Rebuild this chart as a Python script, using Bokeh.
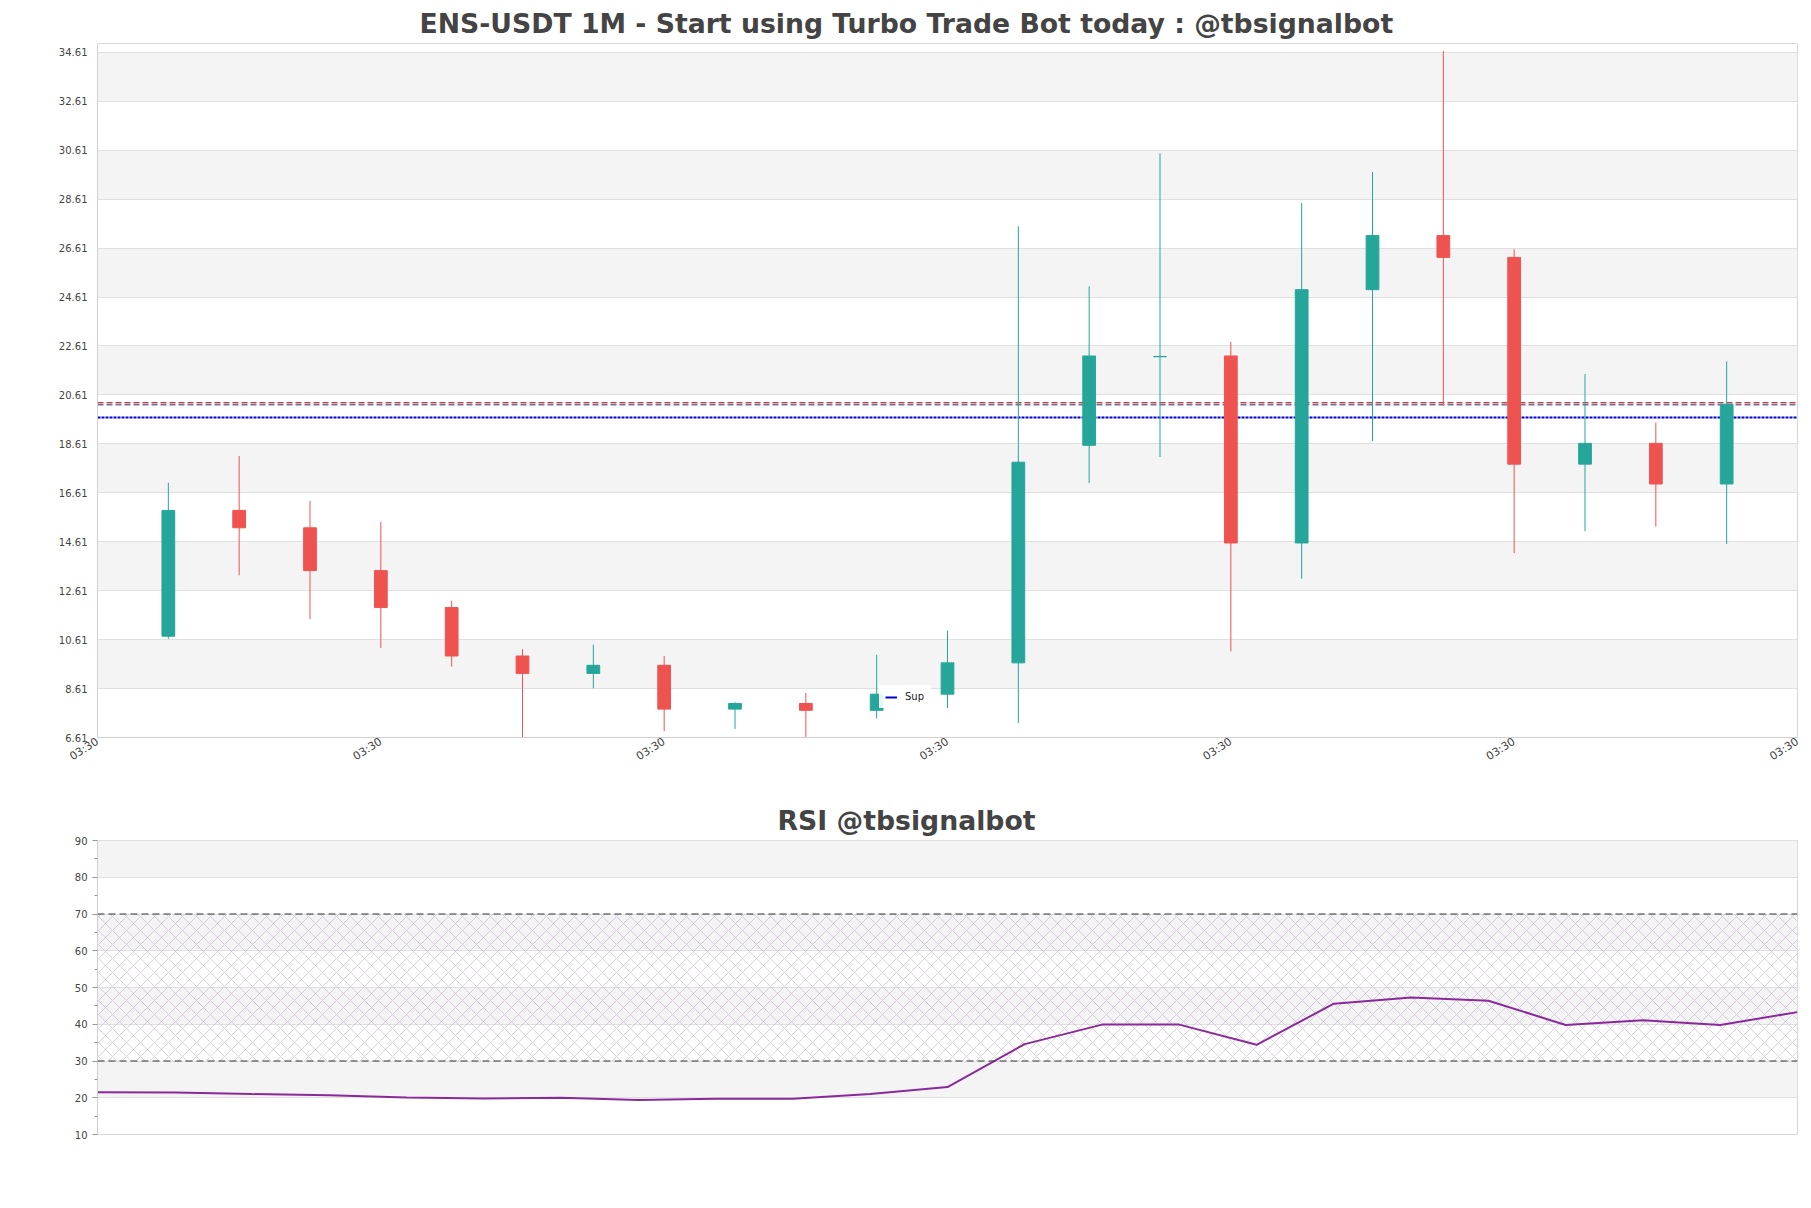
from bokeh.plotting import figure
from bokeh.layouts import column
from bokeh.models import (ColumnDataSource, FixedTicker, Span, Title, Range1d,
                          BoxAnnotation)
from bokeh.embed import file_html
from bokeh.resources import INLINE

# ---------------- data ----------------
candle_index = list(range(23))
opens  = [10.75, 15.89, 15.18, 13.43, 11.92, 9.94, 9.23, 9.56, 7.77, 8.00, 7.72, 8.38,
          9.66, 18.55, 22.17, 22.20, 14.56, 24.91, 27.12, 26.23, 17.78, 18.63, 16.97]
highs  = [17.02, 18.11, 16.27, 15.42, 12.20, 10.22, 10.41, 9.94, 8.05, 8.43, 9.99, 10.98,
          27.50, 25.05, 30.48, 22.78, 28.45, 29.72, 34.66, 26.56, 21.46, 19.48, 21.98]
lows   = [10.64, 13.24, 11.45, 10.27, 9.51, 6.63, 8.62, 6.87, 6.96, 6.61, 7.39, 7.81,
          7.20, 17.01, 18.07, 10.13, 13.10, 18.72, 20.18, 14.14, 15.04, 15.23, 14.52]
closes = [15.89, 15.18, 13.43, 11.92, 9.94, 9.23, 9.56, 7.77, 8.00, 7.72, 8.38, 9.66,
          17.86, 22.20, 22.18, 14.56, 24.91, 27.12, 26.23, 17.78, 18.63, 16.97, 20.23]

rsi_values = [21.5, 21.4, 21.0, 20.7, 20.1, 19.8, 20.0, 19.4, 19.7, 19.7, 21.0, 22.9,
              34.6, 39.9, 39.9, 34.4, 45.6, 47.3, 46.4, 39.8, 41.1, 39.8, 43.3]

sup_level = 19.68
res_level = 20.31
last_level = 20.23

price_ticks = [6.61, 8.61, 10.61, 12.61, 14.61, 16.61, 18.61, 20.61, 22.61, 24.61,
               26.61, 28.61, 30.61, 32.61, 34.61]
price_tick_labels = ["6.61", "8.61", "10.61", "12.61", "14.61", "16.61", "18.61", "20.61",
                     "22.61", "24.61", "26.61", "28.61", "30.61", "32.61", "34.61"]
x_ticks = [-1, 3, 7, 11, 15, 19, 23]
x_tick_labels = ["03:30", "03:30", "03:30", "03:30", "03:30", "03:30", "03:30"]
rsi_ticks = [10, 20, 30, 40, 50, 60, 70, 80, 90]
rsi_minor_ticks = [15, 25, 35, 45, 55, 65, 75, 85]
rsi_low, rsi_high = 30, 70

UP = "#26a69a"
DOWN = "#ef5350"
FONT = "DejaVu Sans"
TXT = "#444444"
GRID = "#e0e0e0"
BAND = "#f4f4f4"

# ---------------- main chart ----------------
colors = [UP if c >= o else DOWN for o, c in zip(opens, closes)]
src = ColumnDataSource(dict(
    x=candle_index, open=opens, high=highs, low=lows, close=closes,
    top=[max(o, c) for o, c in zip(opens, closes)],
    bottom=[min(o, c) for o, c in zip(opens, closes)],
    color=colors))

p = figure(width=1811, height=790, output_backend="svg", toolbar_location=None,
           x_range=Range1d(-1, 23), y_range=Range1d(6.61, 34.97),
           min_border_left=97, min_border_right=14, min_border_top=43,
           min_border_bottom=53, title=None)
p.add_layout(Title(text="ENS-USDT 1M - Start using Turbo Trade Bot today : @tbsignalbot",
                   align="left", offset=322, text_font=FONT, text_font_size="26.7px",
                   text_font_style="bold", text_color=TXT), "above")
p.outline_line_color = "#d8d8d8"
p.xgrid.visible = False
p.ygrid.grid_line_color = GRID
p.ygrid.band_fill_color = BAND
p.ygrid.band_fill_alpha = 1.0

p.yaxis.ticker = FixedTicker(ticks=price_ticks)
p.yaxis.major_label_overrides = {t: l for t, l in zip(price_ticks, price_tick_labels)}
p.xaxis.ticker = FixedTicker(ticks=x_ticks)
p.xaxis.major_label_overrides = {t: l for t, l in zip(x_ticks, x_tick_labels)}
p.xaxis.major_label_orientation = 0.57
for ax in (p.xaxis, p.yaxis):
    ax.axis_line_color = "#d0d0d0"
    ax.major_tick_line_color = None
    ax.minor_tick_line_color = None
    ax.major_tick_out = 0
    ax.major_tick_in = 0
    ax.major_label_text_font = FONT
    ax.major_label_text_font_size = "10px"
    ax.major_label_text_color = TXT
p.xaxis.major_label_text_font_size = "11px"
p.yaxis.major_label_standoff = 10
p.xaxis.major_label_standoff = 3

# horizontal levels (behind candles)
p.hspan(y=[last_level], line_color="#7b6f9c", line_width=2, line_dash="6 3")
p.hspan(y=[res_level], line_color="#e03535", line_width=1.2, line_dash="6 3")
p.hspan(y=[sup_level], line_color="#0000cc", line_width=2, line_dash="3 1")
p.line(x=[candle_index[0], candle_index[0]], y=[sup_level, sup_level],
       line_color="#0000cc", line_width=2, legend_label="Sup")

p.segment(x0="x", y0="low", x1="x", y1="high", line_color="color", line_width=1, source=src)
p.vbar(x="x", width=0.18, top="top", bottom="bottom", fill_color="color",
       line_color="color", line_width=1, source=src)

lg = p.legend[0]
lg.location = (782, 29)
lg.label_text_font = FONT
lg.label_text_font_size = "10px"
lg.label_text_color = "#222222"
lg.glyph_width = 12
lg.glyph_height = 10
lg.label_height = 10
lg.label_standoff = 8
lg.padding = 6
lg.margin = 0
lg.border_line_alpha = 0
lg.background_fill_alpha = 0.9

# ---------------- RSI chart ----------------
r = figure(width=1811, height=418, output_backend="svg", toolbar_location=None,
           x_range=Range1d(0, 22), y_range=Range1d(10, 90),
           min_border_left=97, min_border_right=14, min_border_top=50,
           min_border_bottom=74, title=None)
r.add_layout(Title(text="RSI @tbsignalbot", align="left", offset=680, text_font=FONT,
                   text_font_size="26.7px", text_font_style="bold", text_color=TXT), "above")
r.outline_line_color = "#d8d8d8"
r.xaxis.visible = False
r.xgrid.visible = False
r.ygrid.grid_line_color = GRID
r.ygrid.band_fill_color = BAND
r.ygrid.band_fill_alpha = 1.0
r.yaxis.ticker = FixedTicker(ticks=rsi_ticks, minor_ticks=rsi_minor_ticks)
r.yaxis.axis_line_color = "#d0d0d0"
r.yaxis.major_tick_line_color = "#999999"
r.yaxis.minor_tick_line_color = "#999999"
r.yaxis.major_tick_out = 5
r.yaxis.major_tick_in = 0
r.yaxis.minor_tick_out = 3
r.yaxis.minor_tick_in = 0
r.yaxis.major_label_standoff = 5
r.yaxis.major_label_text_font = FONT
r.yaxis.major_label_text_font_size = "10px"
r.yaxis.major_label_text_color = TXT

r.add_layout(BoxAnnotation(bottom=rsi_low, top=rsi_high, fill_alpha=0, line_alpha=0,
                           hatch_pattern="diagonal_cross", hatch_color="#c8b4d8",
                           hatch_alpha=0.8, hatch_scale=14, hatch_weight=0.8,
                           level="underlay"))
r.add_layout(Span(location=rsi_high, dimension="width", line_color="#333333",
                  line_width=1.2, line_dash="7 4"))
r.add_layout(Span(location=rsi_low, dimension="width", line_color="#333333",
                  line_width=1.2, line_dash="7 4"))
r.line(x=candle_index, y=rsi_values, line_color="#8a2a9a", line_width=2)

layout = column(p, r)
open("out.html", "w").write(file_html(layout, INLINE))
